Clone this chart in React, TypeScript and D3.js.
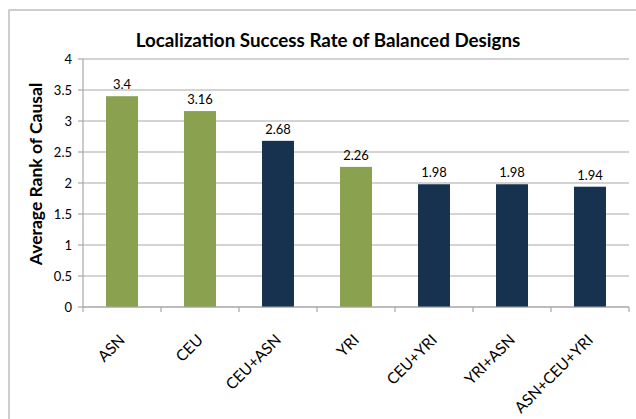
import React from "react";
import * as d3 from "d3";

const categories = ["ASN", "CEU", "CEU+ASN", "YRI", "CEU+YRI", "YRI+ASN", "ASN+CEU+YRI"];
const values = [3.4, 3.16, 2.68, 2.26, 1.98, 1.98, 1.94];
const groups = ["single", "single", "combined", "single", "combined", "combined", "combined"];
const yTicks = [0, 0.5, 1, 1.5, 2, 2.5, 3, 3.5, 4];
const yTickLabels = ["0", "0.5", "1", "1.5", "2", "2.5", "3", "3.5", "4"];
const title = "Localization Success Rate of Balanced Designs";
const yTitle = "Average Rank of Causal";

const W = 636;
const H = 419;
const FONT = "Lato, 'Open Sans', sans-serif";

export default function App() {
  const x = d3.scaleBand<string>().domain(categories).range([83, 629]).paddingInner(0.59).paddingOuter(0.295);
  const y = d3.scaleLinear().domain([0, 4]).range([307, 59]);
  const color = d3.scaleOrdinal<string, string>().domain(["single", "combined"]).range(["#8aa24f", "#17324f"]);
  const step = x.step();
  const boundaries = categories.map((c) => (x(c) as number) - (step - x.bandwidth()) / 2).concat([629]);

  return (
    <svg width={W} height={H} style={{ position: "absolute", left: 0, top: 0, background: "#fff" }}>
      <rect x={9} y={10} width={700} height={500} fill="#fff" stroke="#bfbfbf" strokeWidth={1.5} />
      <text x={328} y={47} textAnchor="middle" fontFamily={FONT} fontWeight={700} fontSize={18.8} fill="#000">
        {title}
      </text>
      {yTicks.map((t) => (
        <line key={"g" + t} x1={83} x2={629} y1={y(t)} y2={y(t)} stroke="#a8a8a8" strokeWidth={1.2} />
      ))}
      <line x1={83} x2={83} y1={y(4)} y2={y(0)} stroke="#a8a8a8" strokeWidth={1.2} />
      {yTicks.map((t, i) => (
        <g key={"t" + t}>
          <line x1={78} x2={83} y1={y(t)} y2={y(t)} stroke="#a8a8a8" strokeWidth={1.2} />
          <text x={72} y={y(t)} dy="0.35em" textAnchor="end" fontFamily={FONT} fontSize={13} fill="#000">
            {yTickLabels[i]}
          </text>
        </g>
      ))}
      {boundaries.map((b, i) => (
        <line key={"b" + i} x1={b} x2={b} y1={307} y2={312} stroke="#a8a8a8" strokeWidth={1.2} />
      ))}
      {categories.map((c, i) => (
        <g key={c}>
          <rect x={x(c)} y={y(values[i])} width={x.bandwidth()} height={y(0) - y(values[i])} fill={color(groups[i])} />
          <text
            x={(x(c) as number) + x.bandwidth() / 2}
            y={y(values[i]) - 7}
            textAnchor="middle"
            fontFamily={FONT}
            fontSize={13}
            fill="#000"
          >
            {String(values[i])}
          </text>
          <text
            transform={`translate(${(x(c) as number) + x.bandwidth() / 2 + 4},${341}) rotate(-45)`}
            textAnchor="end"
            fontFamily={FONT}
            fontSize={15.5}
            fill="#000"
          >
            {c}
          </text>
        </g>
      ))}
      <line x1={83} x2={629} y1={307} y2={307} stroke="#a8a8a8" strokeWidth={1.2} />
      <text
        transform={`translate(42,${174}) rotate(-90)`}
        textAnchor="middle"
        fontFamily={FONT}
        fontWeight={700}
        fontSize={17.5}
        fill="#000"
      >
        {yTitle}
      </text>
    </svg>
  );
}
